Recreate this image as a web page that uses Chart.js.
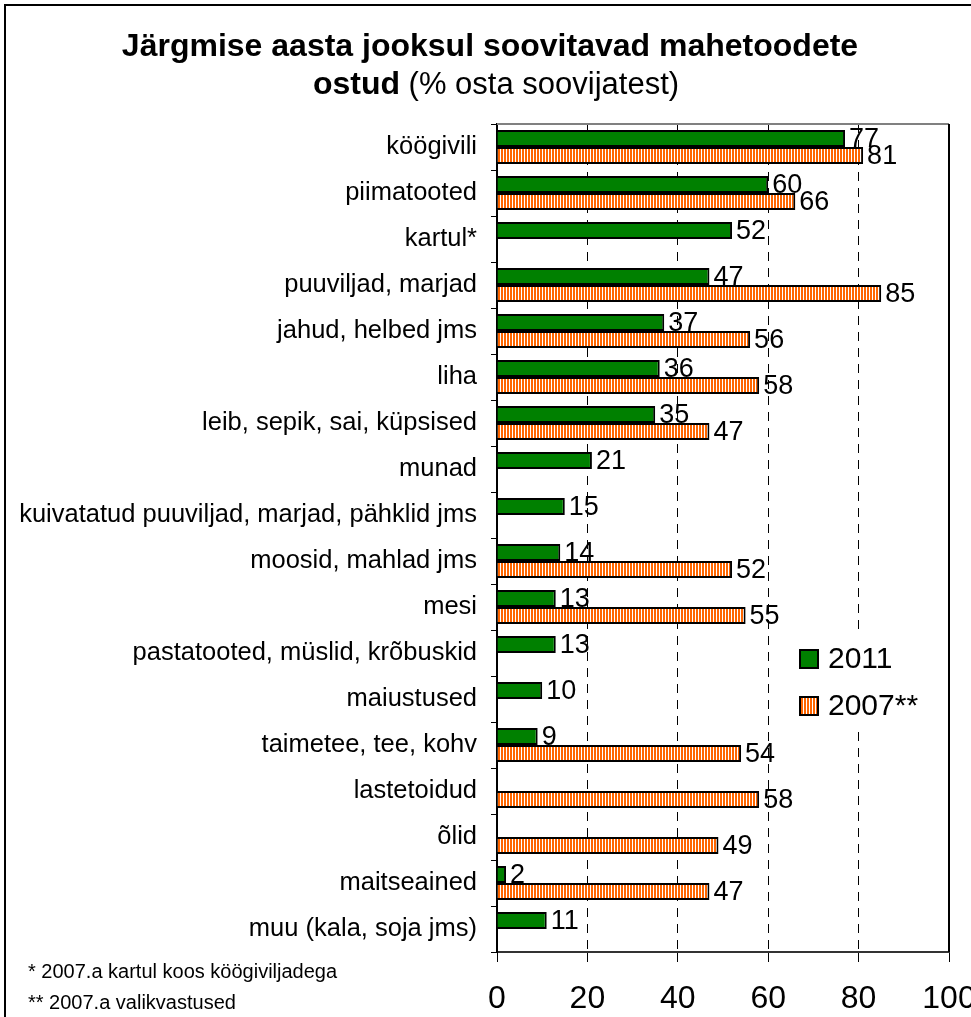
<!DOCTYPE html>
<html>
<head>
<meta charset="utf-8">
<script src="https://cdn.jsdelivr.net/npm/chart.js@4/dist/chart.umd.min.js"></script>
<style>
  html, body { margin: 0; padding: 0; background: #fff; }
  #wrap { width: 971px; height: 1017px; }
</style>
</head>
<body>
<div id="wrap"><canvas id="myChart" width="971" height="1017"></canvas></div>
<script>
// andmed (loetud pildilt)
var categories = [
  "köögivili", "piimatooted", "kartul*", "puuviljad, marjad", "jahud, helbed jms",
  "liha", "leib, sepik, sai, küpsised", "munad",
  "kuivatatud puuviljad, marjad, pähklid jms", "moosid, mahlad jms", "mesi",
  "pastatooted, müslid, krõbuskid", "maiustused", "taimetee, tee, kohv",
  "lastetoidud", "õlid", "maitseained", "muu (kala, soja jms)"
];
var values2011 = [77, 60, 52, 47, 37, 36, 35, 21, 15, 14, 13, 13, 10, 9, null, null, 2, 11];
var values2007 = [81, 66, null, 85, 56, 58, 47, null, null, 52, 55, null, null, 54, 58, 49, 47, null];
var xTicks = [0, 20, 40, 60, 80, 100];
var seriesNames = ["2011", "2007**"];
var footnotes = ["* 2007.a kartul koos köögiviljadega", "** 2007.a valikvastused"];

var FONT = "'Liberation Sans', Arial, sans-serif";

// oranž-valge triibuline muster
function makeStripes() {
  var c = document.createElement("canvas");
  c.width = 3; c.height = 3;
  var g = c.getContext("2d");
  g.fillStyle = "#ffffff";
  g.fillRect(0, 0, 3, 3);
  g.fillStyle = "#ff6600";
  g.fillRect(0, 0, 2, 3);
  return g.createPattern(c, "repeat");
}
var stripes = makeStripes();

// pealkiri, raam, joonealused, legend, väärtused
var decoPlugin = {
  id: "deco",
  beforeDraw: function(chart) {
    var ctx = chart.ctx;
    ctx.save();
    ctx.fillStyle = "#fff";
    ctx.fillRect(0, 0, chart.width, chart.height);
    ctx.strokeStyle = "#000";
    ctx.lineWidth = 2;
    ctx.strokeRect(5, 5, chart.width + 20, chart.height + 20);

    ctx.fillStyle = "#000";
    ctx.textBaseline = "middle";
    ctx.textAlign = "center";
    ctx.font = "bold 32px " + FONT;
    ctx.fillText("Järgmise aasta jooksul soovitavad mahetoodete", 490, 47);
    var b = "ostud", n = " (% osta soovijatest)";
    ctx.font = "bold 32px " + FONT;
    var wb = ctx.measureText(b).width;
    ctx.font = "31px " + FONT;
    var wn = ctx.measureText(n).width;
    var x0 = 496 - (wb + wn) / 2;
    ctx.textAlign = "left";
    ctx.font = "bold 32px " + FONT;
    ctx.fillText(b, x0, 85);
    ctx.font = "31px " + FONT;
    ctx.fillText(n, x0 + wb, 85);

    ctx.font = "20px " + FONT;
    ctx.fillText(footnotes[0], 28, 972);
    ctx.fillText(footnotes[1], 28, 1003);
    ctx.restore();
  },
  afterDatasetsDraw: function(chart) {
    var ctx = chart.ctx;
    var a = chart.chartArea;
    ctx.save();

    // väärtused
    ctx.fillStyle = "#000";
    ctx.font = "27px " + FONT;
    ctx.textAlign = "left";
    ctx.textBaseline = "middle";
    chart.data.datasets.forEach(function(ds, di) {
      var meta = chart.getDatasetMeta(di);
      meta.data.forEach(function(el, i) {
        var v = ds.data[i];
        if (v === null) return;
        ctx.fillText(String(v), el.x + 4, el.y + 1);
      });
    });

    // legend
    ctx.fillStyle = "#fff";
    ctx.fillRect(790, 636, 155, 94);
    var fills = ["#008000", stripes];
    for (var k = 0; k < 2; k++) {
      var y = 659 + k * 47;
      ctx.fillStyle = fills[k];
      ctx.fillRect(800, y - 9, 18, 18);
      ctx.strokeStyle = "#000";
      ctx.lineWidth = 2;
      ctx.strokeRect(800, y - 9, 18, 18);
      ctx.fillStyle = "#000";
      ctx.font = "30px " + FONT;
      ctx.fillText(seriesNames[k], 828, y + 1);
    }

    // ülemine ja parem serv
    ctx.strokeStyle = "#808080";
    ctx.lineWidth = 2;
    ctx.beginPath();
    ctx.moveTo(a.left, a.top);
    ctx.lineTo(a.right, a.top);
    ctx.stroke();
    ctx.strokeStyle = "#000";
    ctx.beginPath();
    ctx.moveTo(a.right, a.top);
    ctx.lineTo(a.right, a.bottom);
    ctx.stroke();
    ctx.restore();
  }
};

var ctx = document.getElementById("myChart").getContext("2d");
var myChart = new Chart(ctx, {
  type: "bar",
  data: {
    labels: categories,
    datasets: [
      { label: seriesNames[0], data: values2011, backgroundColor: "#008000",
        borderColor: "#000", borderWidth: 2, categoryPercentage: 0.74, barPercentage: 1 },
      { label: seriesNames[1], data: values2007, backgroundColor: stripes,
        borderColor: "#000", borderWidth: 2, categoryPercentage: 0.74, barPercentage: 1 }
    ]
  },
  options: {
    indexAxis: "y",
    responsive: false,
    animation: false,
    layout: { padding: { top: 124, right: 22, left: 0, bottom: 0 } },
    plugins: { legend: { display: false }, tooltip: { enabled: false }, title: { display: false } },
    scales: {
      x: {
        min: 0, max: 100,
        afterBuildTicks: function(axis) {
          axis.ticks = xTicks.map(function(v) { return { value: v }; });
        },
        afterFit: function(axis) {
          axis.height = 65;
          axis.paddingLeft = 0;
          axis.paddingRight = 0;
        },
        ticks: { color: "#000", font: { family: FONT, size: 32 }, padding: 18, maxRotation: 0 },
        grid: {
          color: function(c) {
            return (c.tick && (c.tick.value === 0 || c.tick.value === 100)) ? "rgba(0,0,0,0)" : "#000";
          },
          tickColor: "#000",
          lineWidth: 1,
          tickLength: 10
        },
        border: { display: true, color: "#333", width: 2, dash: [9, 7] }
      },
      y: {
        afterFit: function(axis) {
          axis.width = 497;
          axis.paddingTop = 0;
          axis.paddingBottom = 0;
        },
        ticks: { color: "#000", font: { family: FONT, size: 25.5 }, padding: 14, autoSkip: false },
        grid: { drawOnChartArea: false, offset: true, tickLength: 6, color: "#000" },
        border: { display: true, color: "#000", width: 2 }
      }
    }
  },
  plugins: [decoPlugin]
});
</script>
</body>
</html>
